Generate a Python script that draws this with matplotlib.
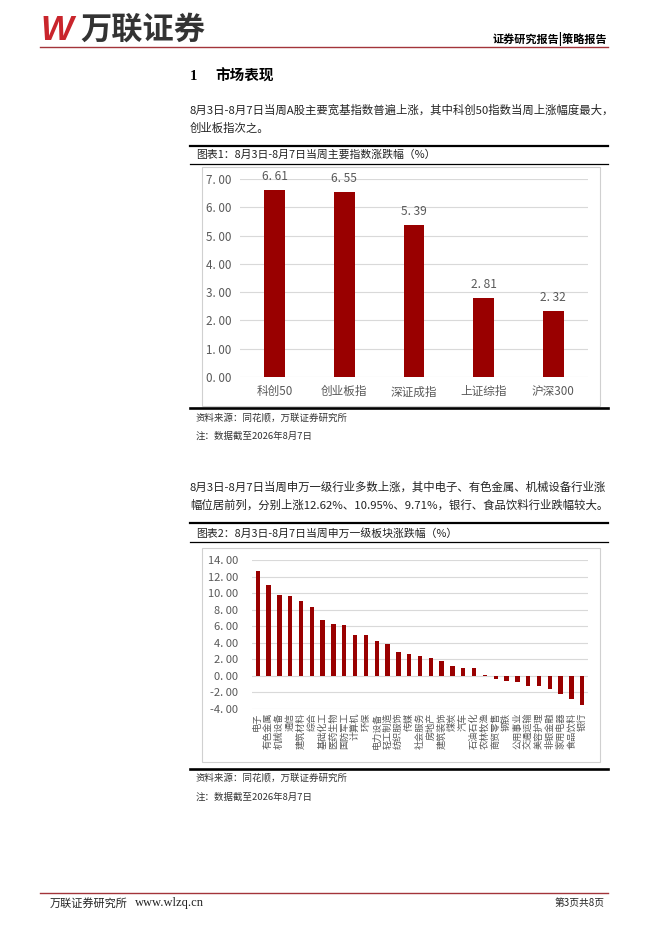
import matplotlib
matplotlib.use('Agg')
import matplotlib.pyplot as plt
from matplotlib.patches import Rectangle
from matplotlib.lines import Line2D

plt.rcParams['font.family'] = ['Noto Sans CJK SC', 'DejaVu Sans']

W, H = 662, 936

# 图表1 主要指数涨跌幅
index_names = ['科创50', '创业板指', '深证成指', '上证综指', '沪深300']
index_chg = [6.61, 6.55, 5.39, 2.81, 2.32]

# 图表2 申万一级行业涨跌幅
sector_names = ['电子', '有色金属', '机械设备', '通信', '建筑材料', '综合', '基础化工',
                '医药生物', '国防军工', '计算机', '环保', '电力设备', '轻工制造', '纺织服饰',
                '传媒', '社会服务', '房地产', '建筑装饰', '煤炭', '汽车', '石油石化',
                '农林牧渔', '商贸零售', '钢铁', '公用事业', '交通运输', '美容护理',
                '非银金融', '家用电器', '食品饮料', '银行']
sector_chg = [12.62, 10.95, 9.71, 9.68, 9.05, 8.30, 6.75, 6.30, 6.15, 4.95, 4.95, 4.25,
              3.85, 2.90, 2.65, 2.33, 2.10, 1.80, 1.20, 0.98, 0.95, 0.12, -0.36, -0.60,
              -0.72, -1.20, -1.30, -1.56, -2.17, -2.77, -3.60]

BAR = '#990000'
GRAY = '#595959'
GRID = '#d9d9d9'

fig = plt.figure(figsize=(W / 100, H / 100), dpi=100)


def fx(x):
    return x / W


def fy(y):
    return 1 - y / H


def hline(y, x0, x1, lw, color='black'):
    fig.add_artist(Line2D([fx(x0), fx(x1)], [fy(y), fy(y)], lw=lw, color=color))


def box(x0, y0, x1, y1):
    fig.add_artist(Rectangle((fx(x0), fy(y1)), (x1 - x0) / W, (y1 - y0) / H,
                             transform=fig.transFigure, fill=False,
                             edgecolor='#d0d0d0', lw=0.8))


def txt(x, y, s, **kw):
    kw.setdefault('va', 'center')
    fig.text(fx(x), fy(y), s, **kw)


def num(v):
    # 参考图数字带间隔，如 "7. 00"
    return f'{v:.2f}'.replace('.', '. ')


# header
txt(40, 31, 'W', fontsize=25, color='#c9252c', weight='bold', style='italic',
    family='Liberation Sans')
txt(80, 30, '万联证券', fontsize=22.5, color='#333333', weight='heavy')
txt(607, 39, '证券研究报告|策略报告', fontsize=8, weight='bold', ha='right')
hline(47, 40, 608, 1.0, '#a3343a')

# section 1
txt(190, 76, '1', fontsize=10.5, weight='bold', family='Liberation Serif')
txt(215, 76, '市场表现', fontsize=10.5, weight='bold')
txt(190, 110, '8月3日-8月7日当周A股主要宽基指数普遍上涨，其中科创50指数当周上涨幅度最大，',
    fontsize=8.2, color='#222222')
txt(190, 128, '创业板指次之。', fontsize=8.2, color='#222222')

# chart 1 frame
hline(146, 190, 608, 1.6)
txt(196, 155, '图表1：8月3日-8月7日当周主要指数涨跌幅（%）', fontsize=7.8, color='#222222')
hline(164, 190, 608, 0.9)
box(202, 167, 600, 406)
hline(408, 190, 608, 1.9)
txt(196, 418, '资料来源：同花顺，万联证券研究所', fontsize=6.8, color='#333333', style='italic')
txt(196, 436, '注：数据截至2026年8月7日', fontsize=6.8, color='#333333', style='italic')

ax1 = fig.add_axes([fx(240), fy(377), (588 - 240) / W, (377 - 179) / H])
x1 = range(len(index_names))
bars1 = ax1.bar(x1, index_chg, width=0.3, color=BAR, zorder=3)
for b, v in zip(bars1, index_chg):
    ax1.annotate(num(v), (b.get_x() + b.get_width() / 2, v), xytext=(0, 5),
                 textcoords='offset points', ha='center', va='bottom',
                 fontsize=8.6, color=GRAY)
ax1.set_xlim(-0.5, len(index_names) - 0.5)
ax1.set_ylim(0, 7)
ax1.set_yticks(range(0, 8))
ax1.set_yticklabels([num(v) for v in range(0, 8)])
ax1.set_xticks(list(x1))
ax1.set_xticklabels(index_names)
ax1.tick_params(axis='y', length=0, pad=6, labelsize=8.4, labelcolor=GRAY)
ax1.tick_params(axis='x', length=0, pad=6, labelsize=8.4, labelcolor=GRAY)
ax1.yaxis.grid(True, color=GRID, lw=0.8)
ax1.set_axisbelow(True)
for s in ax1.spines.values():
    s.set_visible(False)
ax1.patch.set_alpha(0)

# section paragraph 2
txt(190, 487, '8月3日-8月7日当周申万一级行业多数上涨，其中电子、有色金属、机械设备行业涨',
    fontsize=8.2, color='#222222')
txt(190, 505, '幅位居前列，分别上涨12.62%、10.95%、9.71%，银行、食品饮料行业跌幅较大。',
    fontsize=8.2, color='#222222')

# chart 2 frame
hline(523, 190, 608, 1.6)
txt(196, 533, '图表2：8月3日-8月7日当周申万一级板块涨跌幅（%）', fontsize=7.8, color='#222222')
hline(542, 190, 608, 0.9)
box(202, 548, 600, 762)
hline(769, 190, 608, 1.9)
txt(196, 778, '资料来源：同花顺，万联证券研究所', fontsize=6.8, color='#333333', style='italic')
txt(196, 797, '注：数据截至2026年8月7日', fontsize=6.8, color='#333333', style='italic')

ax2 = fig.add_axes([fx(252.3), fy(708.7), (587.7 - 252.3) / W, (708.7 - 560) / H])
x2 = range(len(sector_names))
ax2.bar(x2, sector_chg, width=0.4, color=BAR, zorder=3)
ax2.set_xlim(-0.5, len(sector_names) - 0.5)
ax2.set_ylim(-4, 14)
yt = list(range(-4, 15, 2))
ax2.set_yticks(yt)
ax2.set_yticklabels([num(v) for v in yt])
ax2.set_xticks(list(x2))
ax2.set_xticklabels(sector_names, rotation=90)
ax2.tick_params(axis='y', length=0, pad=10, labelsize=8.0, labelcolor=GRAY)
ax2.tick_params(axis='x', length=0, pad=3, labelsize=6.6, labelcolor=GRAY)
ax2.yaxis.grid(True, color=GRID, lw=0.8)
ax2.set_axisbelow(True)
for s in ax2.spines.values():
    s.set_visible(False)
ax2.patch.set_alpha(0)

# footer
hline(893, 40, 608, 1.0, '#a3343a')
txt(50, 903, '万联证券研究所', fontsize=8, color='#222222')
txt(135, 903, 'www.wlzq.cn', fontsize=9, color='#222222', family='Liberation Serif')
txt(605, 903, '第3页共8页', fontsize=7, color='#222222', ha='right')

fig.savefig('out.png', dpi=100)
